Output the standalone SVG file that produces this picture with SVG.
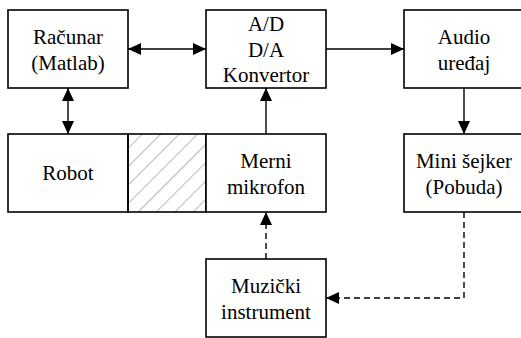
<svg xmlns="http://www.w3.org/2000/svg" width="521" height="338" viewBox="0 0 521 338">
<style>
.box{fill:#fff;stroke:#000;stroke-width:1.6}
.t{font-family:'Liberation Serif','Times New Roman',Times,'DejaVu Serif',serif;font-size:21px;fill:#000;text-anchor:middle}
.c{fill:none;stroke:#000;stroke-width:1.4}
.d{fill:none;stroke:#000;stroke-width:1.4;stroke-dasharray:6 4}
</style>
<defs>
<marker id="ah" viewBox="0 0 13 12" refX="13" refY="6" markerWidth="13" markerHeight="12" markerUnits="userSpaceOnUse" orient="auto-start-reverse">
<path d="M0,0 L13,6 L0,12 z" fill="#000"/>
</marker>
<pattern id="hatch" patternUnits="userSpaceOnUse" width="13" height="13" patternTransform="rotate(45)">
<line x1="0" y1="0" x2="0" y2="13" stroke="#8c8c8c" stroke-width="1.2"/>
</pattern>
</defs>
<g id="racunar">
<rect class="box" x="8" y="10" width="120" height="78"/>
<text class="t" x="68" y="44" font-family="Liberation Serif">Računar</text>
<text class="t" x="68" y="70">(Matlab)</text>
</g>
<g id="adda">
<rect class="box" x="206" y="10" width="120" height="78"/>
<text class="t" x="266" y="31">A/D</text>
<text class="t" x="266" y="57">D/A</text>
<text class="t" x="266" y="82">Konvertor</text>
</g>
<g id="audio">
<rect class="box" x="404" y="10" width="120" height="78"/>
<text class="t" x="464" y="44">Audio</text>
<text class="t" x="464" y="70">uređaj</text>
</g>
<g id="robot">
<rect class="box" x="8" y="134" width="120" height="78"/>
<text class="t" x="68" y="180">Robot</text>
</g>
<g id="hatched">
<rect x="128" y="134" width="78" height="78" fill="url(#hatch)" stroke="#000" stroke-width="1.6"/>
</g>
<g id="merni">
<rect class="box" x="206" y="134" width="120" height="78"/>
<text class="t" x="266" y="168">Merni</text>
<text class="t" x="266" y="194">mikrofon</text>
</g>
<g id="mini">
<rect class="box" x="404" y="134" width="120" height="78"/>
<text class="t" x="464" y="168">Mini šejker</text>
<text class="t" x="464" y="194">(Pobuda)</text>
</g>
<g id="muzicki">
<rect class="box" x="206" y="259" width="120" height="78"/>
<text class="t" x="266" y="293">Muzički</text>
<text class="t" x="266" y="319">instrument</text>
</g>
<g id="connectors">
<line class="c" x1="128" y1="49" x2="206" y2="49" marker-start="url(#ah)" marker-end="url(#ah)"/>
<line class="c" x1="326" y1="49" x2="404" y2="49" marker-end="url(#ah)"/>
<line class="c" x1="68" y1="88" x2="68" y2="134" marker-start="url(#ah)" marker-end="url(#ah)"/>
<line class="c" x1="266" y1="134" x2="266" y2="88" marker-end="url(#ah)"/>
<line class="c" x1="464" y1="88" x2="464" y2="134" marker-end="url(#ah)"/>
<line class="d" x1="266" y1="259" x2="266" y2="212" marker-end="url(#ah)"/>
<polyline class="d" points="464,212 464,298 326,298" marker-end="url(#ah)"/>
</g>
</svg>
